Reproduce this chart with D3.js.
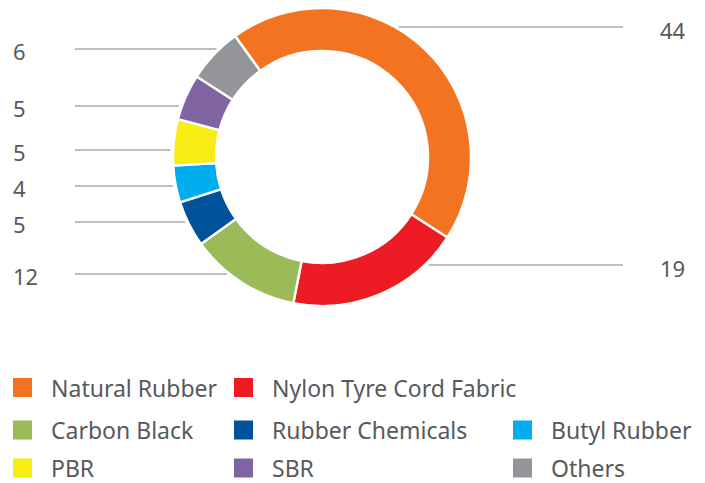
<!DOCTYPE html>
<html>
<head>
<meta charset="utf-8">
<script src="https://cdn.jsdelivr.net/npm/d3@7"></script>
<style>
  html, body { margin: 0; padding: 0; background: #fff; }
  svg { display: block; }
  text { font-family: "Noto Sans", "Open Sans", sans-serif; fill: #58595b; }
</style>
</head>
<body>
<svg id="chart" width="705" height="483"></svg>
<script>
// Raw material share (%)
const categories = ["Natural Rubber", "Nylon Tyre Cord Fabric", "Carbon Black", "Rubber Chemicals",
                    "Butyl Rubber", "PBR", "SBR", "Others"];
const shares = [44, 19, 12, 5, 4, 5, 5, 6];
const colors = ["#f37321", "#ed1c24", "#9bbb59", "#00529b", "#00aeef", "#f7ec13", "#8064a2", "#939598"];

// Legend arrangement: three columns, reading row by row
const legendOrder = [
  ["Natural Rubber", "Nylon Tyre Cord Fabric"],
  ["Carbon Black", "Rubber Chemicals", "Butyl Rubber"],
  ["PBR", "SBR", "Others"]
];

// Callout rows: which side the value sits on and the height of its leader line
const calloutSide = ["right", "right", "left", "left", "left", "left", "left", "left"];
const calloutY = [27, 265, 274, 222, 186, 150, 106, 49];

const svg = d3.select("#chart");
const cx = 322, cy = 157, rOuter = 149, rInner = 106;
const startDeg = -35.7;

const pie = d3.pie().sort(null).value(d => d)
  .startAngle(startDeg * Math.PI / 180)
  .endAngle((startDeg + 360) * Math.PI / 180);
const arc = d3.arc().innerRadius(rInner).outerRadius(rOuter);
const arcs = pie(shares);

const g = svg.append("g").attr("transform", `translate(${cx},${cy})`);
g.selectAll("path.slice").data(arcs).join("path")
  .attr("class", "slice")
  .attr("d", arc)
  .attr("fill", (d, i) => colors[i])
  .attr("stroke", "#fff")
  .attr("stroke-width", 2.4)
  .attr("stroke-linejoin", "miter");

// Leader lines and values
const leftX = 75, rightX = 623;
shares.forEach((v, i) => {
  const y = calloutY[i];
  const dy = y - cy;
  const half = Math.sqrt(Math.max(0, rOuter * rOuter - dy * dy));
  if (calloutSide[i] === "left") {
    const end = cx - half - 3;
    svg.append("line").attr("x1", leftX).attr("x2", end).attr("y1", y).attr("y2", y)
      .attr("stroke", "#a7a9ac").attr("stroke-width", 1.4);
    svg.append("text").attr("x", 13).attr("y", y + 2)
      .attr("dominant-baseline", "central").attr("font-size", 22).text(v);
  } else {
    const start = cx + half + 4;
    svg.append("line").attr("x1", start).attr("x2", rightX).attr("y1", y).attr("y2", y)
      .attr("stroke", "#a7a9ac").attr("stroke-width", 1.4);
    svg.append("text").attr("x", 660).attr("y", y + 3)
      .attr("dominant-baseline", "central").attr("font-size", 22).text(v);
  }
});

// Legend
const colX = [13, 234, 513];
const rowY = [387.5, 430, 468];
const legend = svg.append("g");
legendOrder.forEach((row, r) => {
  row.forEach((name, c) => {
    const i = categories.indexOf(name);
    const item = legend.append("g").attr("transform", `translate(${colX[c]},${rowY[r]})`);
    item.append("rect").attr("x", 0).attr("y", -9.5).attr("width", 19).attr("height", 19)
      .attr("fill", colors[i]);
    item.append("text").attr("x", 38).attr("y", 0)
      .attr("dominant-baseline", "central").attr("font-size", 23).text(name);
  });
});
</script>
</body>
</html>
